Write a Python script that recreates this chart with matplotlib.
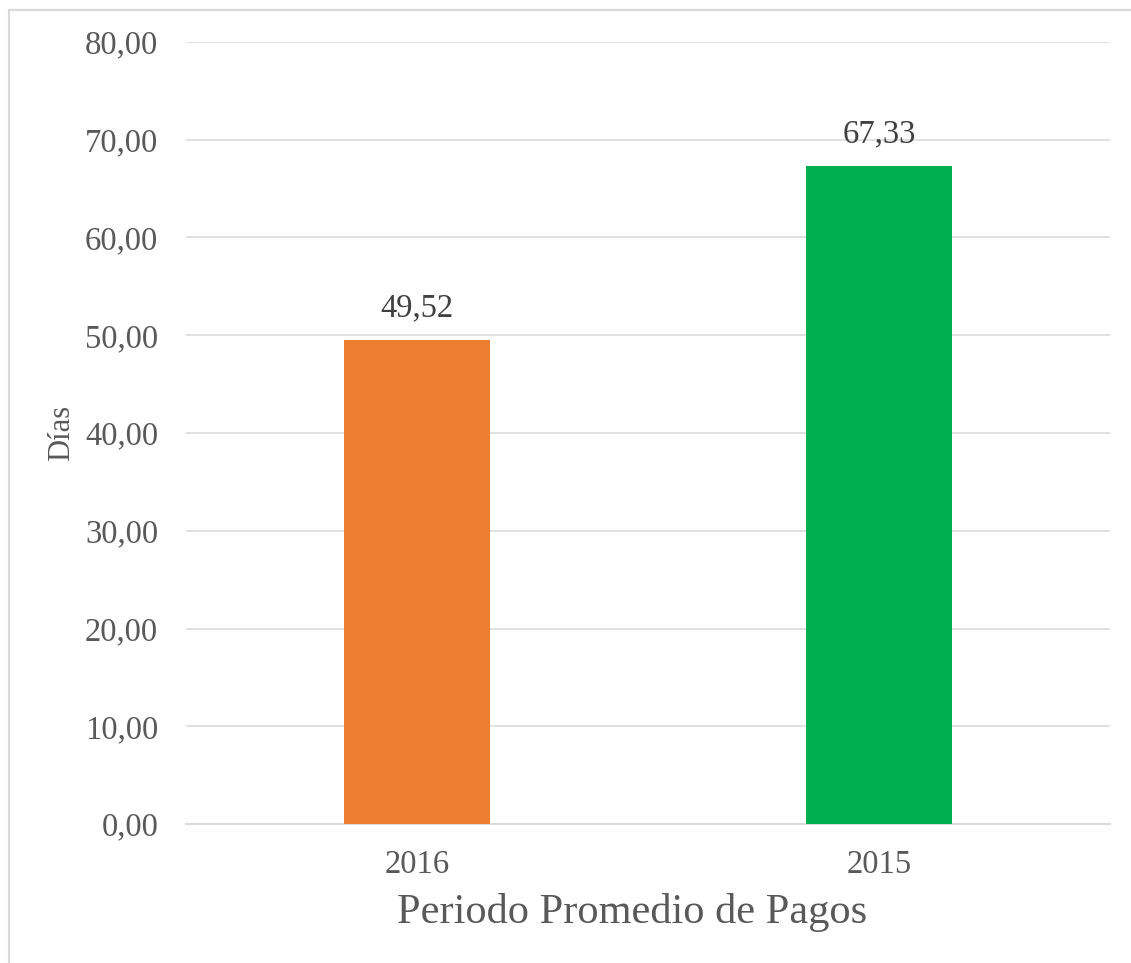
import matplotlib
matplotlib.use("Agg")
import matplotlib.pyplot as plt
from matplotlib.patches import Rectangle
from matplotlib.ticker import FuncFormatter

categories = ["2016", "2015"]
values = [49.52, 67.33]
colors = ["#ED7D31", "#00B050"]
y_ticks = [0, 10, 20, 30, 40, 50, 60, 70, 80]

plt.rcParams["font.family"] = ["Liberation Serif", "DejaVu Serif"]

fig = plt.figure(figsize=(11.31, 9.63), dpi=100)
ax = fig.add_axes([186 / 1131, 1 - 824 / 963, (1110 - 186) / 1131, (824 - 42) / 963])

x = range(len(categories))
bars = ax.bar(x, values, width=0.314, color=colors, zorder=3)

ax.set_xlim(-0.5, len(categories) - 0.5)
ax.set_ylim(0, 80)
ax.set_yticks(y_ticks)
ax.yaxis.set_major_formatter(FuncFormatter(lambda v, p: f"{v:.2f}".replace(".", ",")))
ax.set_xticks(list(x))
ax.set_xticklabels(categories)

ax.grid(axis="y", color="#D9D9D9", linewidth=1.1, zorder=0)
for side in ["top", "right", "left"]:
    ax.spines[side].set_visible(False)
ax.spines["bottom"].set_color("#D9D9D9")
ax.spines["bottom"].set_linewidth(1.4)
ax.tick_params(axis="both", length=0, colors="#595959", labelsize=23.5)
ax.tick_params(axis="y", pad=20)
ax.tick_params(axis="x", pad=18)

for b, v in zip(bars, values):
    ax.annotate(f"{v:.2f}".replace(".", ","), (b.get_x() + b.get_width() / 2, v),
                xytext=(0, 12), textcoords="offset points", ha="center", va="bottom",
                fontsize=23.5, color="#404040")

ax.set_ylabel("Días", fontsize=22, color="#595959")
ax.yaxis.set_label_coords((62 - 186) / 924, 0.5)
ax.set_xlabel("Periodo Promedio de Pagos", fontsize=30.5, color="#595959")
ax.xaxis.set_label_coords((632 - 186) / 924, -(912 - 824) / 782)
ax.xaxis.label.set_va("center")
ax.yaxis.label.set_va("center")

# figure frame
fig.patches.append(Rectangle((9 / 1131, -0.1), 1.2, 1 - 10 / 963 + 0.1,
                             transform=fig.transFigure, fill=False,
                             edgecolor="#D9D9D9", linewidth=1.5))

fig.savefig("out.png", dpi=100, facecolor="white")
